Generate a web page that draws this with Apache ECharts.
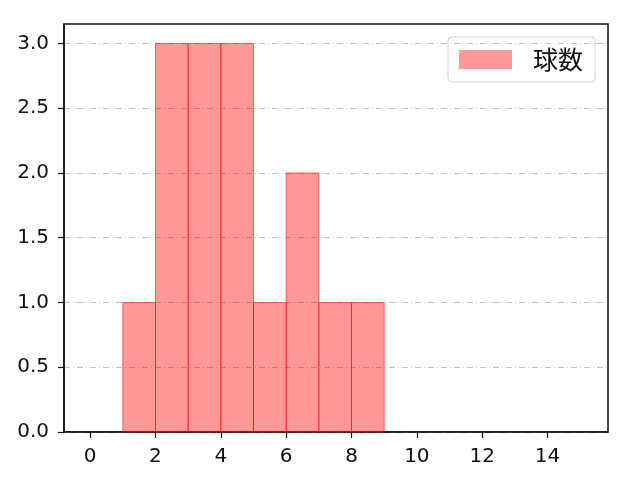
<!DOCTYPE html>
<html>
<head>
    <meta charset="utf-8">
    <title>球数</title>
    <script src="https://cdn.jsdelivr.net/npm/echarts@6/dist/echarts.min.js"></script>
    <style>
        html, body { margin: 0; padding: 0; background: #fff; }
        #main { width: 640px; height: 480px; }
    </style>
</head>
<body>
    <div id="main"></div>
    <script>
        // histogram bins (left edge, right edge) and counts
        const binStart = [1, 2, 3, 4, 5, 6, 7, 8];
        const binEnd = [2, 3, 4, 5, 6, 7, 8, 9];
        const counts = [1, 3, 3, 3, 1, 2, 1, 1];
        const xTicks = [0, 2, 4, 6, 8, 10, 12, 14];
        const yTicks = [0, 0.5, 1.0, 1.5, 2.0, 2.5, 3.0];
        const seriesName = '球数';

        const barData = binStart.map((s, i) => [s, binEnd[i], counts[i]]);

        const chart = echarts.init(document.getElementById('main'));
        const numFont = "'DejaVu Sans', sans-serif";
        const cjkFont = "'Noto Sans CJK JP', sans-serif";

        chart.setOption({
            animation: false,
            grid: {
                left: 64, right: 32, top: 24, bottom: 48,
                show: true, borderColor: '#111', borderWidth: 1.5
            },
            legend: {
                data: [{ name: seriesName, icon: 'rect' }],
                right: 45, top: 37,
                padding: [10, 12, 10, 11],
                itemWidth: 53, itemHeight: 19, itemGap: 10,
                borderColor: '#d0d0d0', borderWidth: 1, borderRadius: 4,
                textStyle: { fontSize: 25, color: '#111', fontFamily: cjkFont, padding: [0, 0, 0, 16] }
            },
            xAxis: {
                type: 'value', min: -0.8, max: 15.85,
                axisLine: { show: true, onZero: false, lineStyle: { color: '#111', width: 1.5 } },
                axisTick: { show: true, length: 6, lineStyle: { color: '#111', width: 1.2 }, customValues: xTicks },
                axisLabel: { fontSize: 20, color: '#111', fontFamily: numFont, margin: 15, customValues: xTicks },
                splitLine: { show: false }
            },
            yAxis: {
                type: 'value', min: 0, max: 3.15,
                axisLine: { show: true, onZero: false, lineStyle: { color: '#111', width: 1.5 } },
                axisTick: { show: true, length: 6, lineStyle: { color: '#111', width: 1.2 }, customValues: yTicks },
                axisLabel: {
                    fontSize: 20, color: '#111', fontFamily: numFont, margin: 15, customValues: yTicks,
                    formatter: v => v.toFixed(1)
                },
                splitLine: { show: true, lineStyle: { color: '#b0b0b0', width: 0.8, type: [6, 3, 1, 3] } }
            },
            series: [{
                name: seriesName,
                type: 'custom',
                itemStyle: { color: 'rgba(255,0,0,0.4)', borderColor: 'rgba(255,0,0,0.55)' },
                encode: { x: [0, 1], y: 2 },
                renderItem: (params, api) => {
                    const p0 = api.coord([api.value(0), 0]);
                    const p1 = api.coord([api.value(1), api.value(2)]);
                    return {
                        type: 'rect',
                        shape: { x: p0[0], y: p1[1], width: p1[0] - p0[0], height: p0[1] - p1[1] },
                        style: { fill: 'rgba(255,0,0,0.4)', stroke: 'rgba(255,0,0,0.55)', lineWidth: 1 }
                    };
                },
                data: barData
            }]
        });
    </script>
</body>
</html>
